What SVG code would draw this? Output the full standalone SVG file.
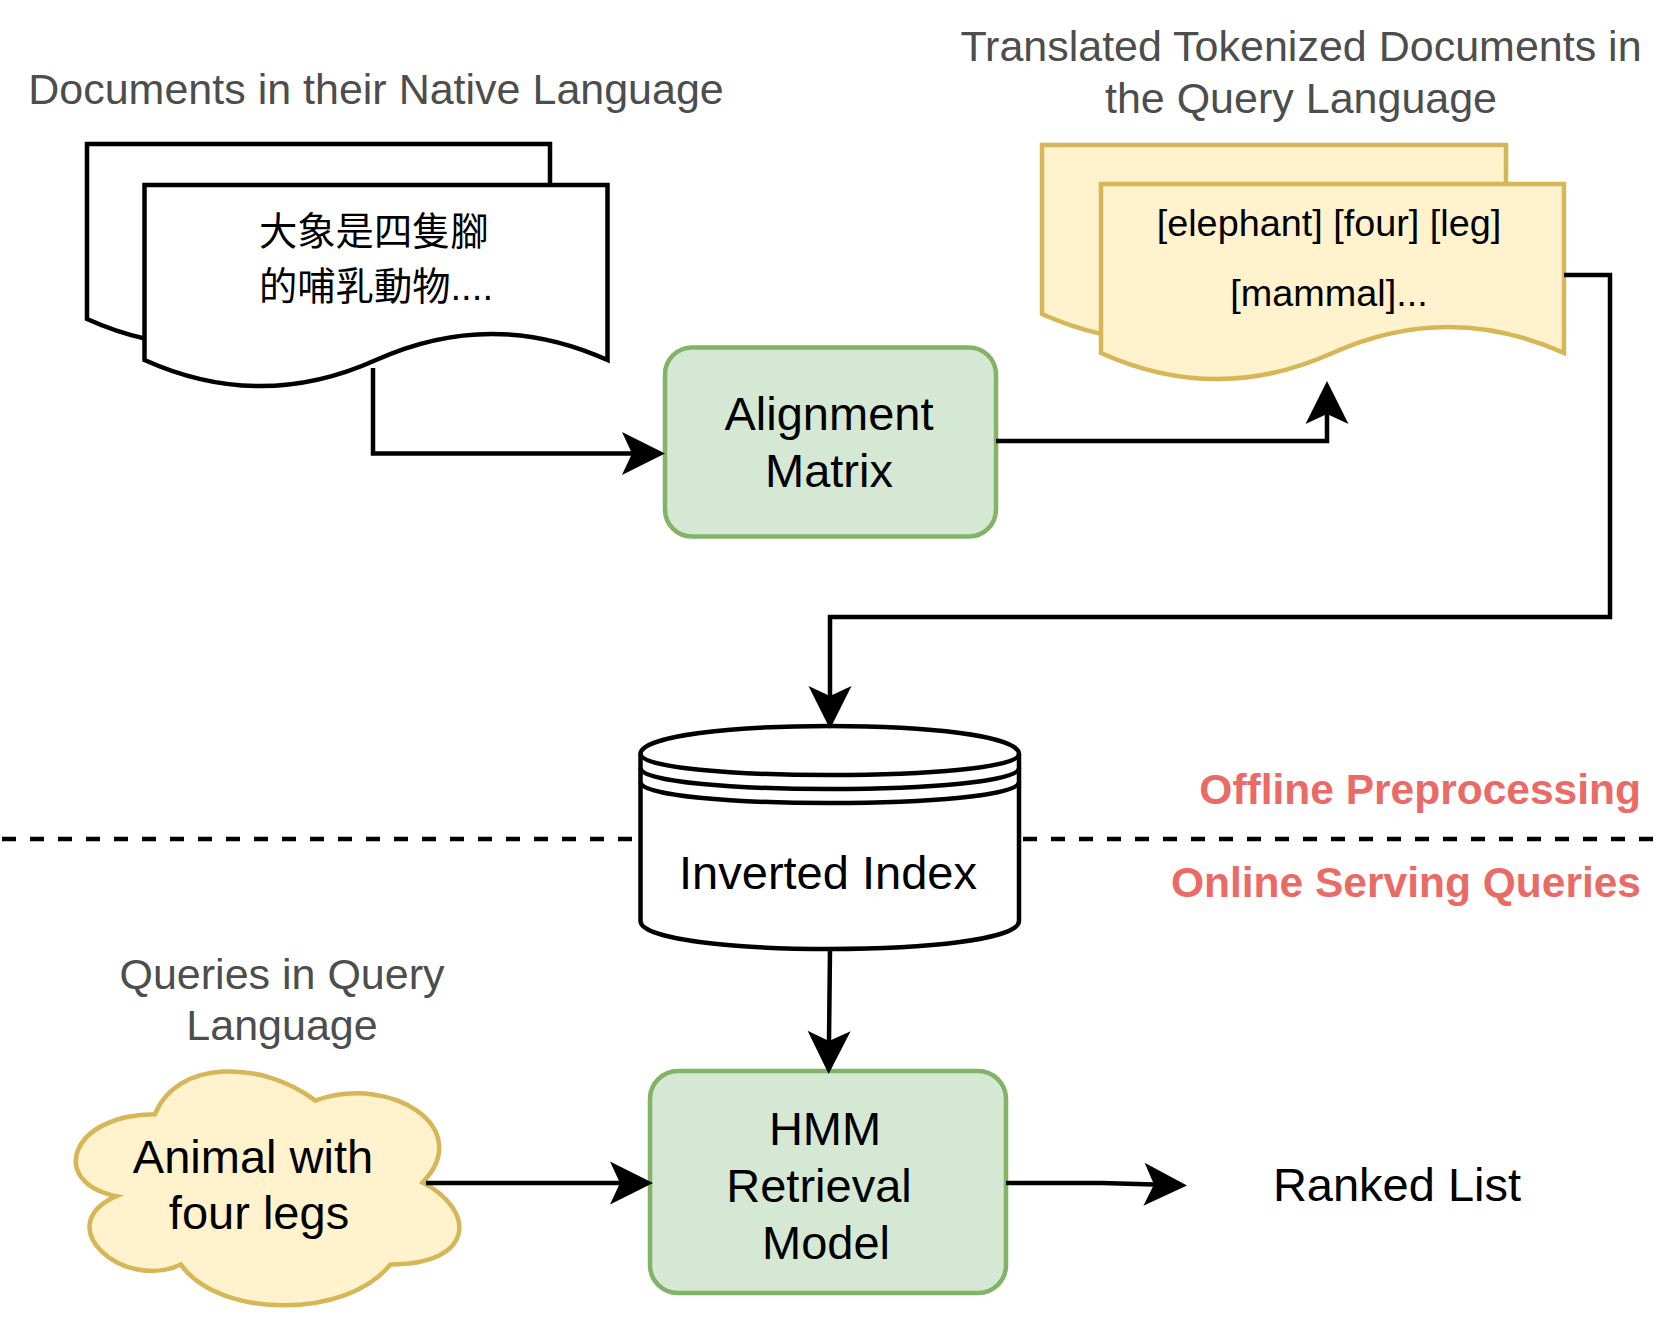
<svg xmlns="http://www.w3.org/2000/svg" width="1661" height="1338" viewBox="0 0 1661 1338">
<style>
text{font-family:"Liberation Sans",Arial,sans-serif}
.g{font-size:43px;fill:#4D4D4D;text-anchor:middle}
.b{font-size:47px;fill:#000;text-anchor:middle}
.r{font-size:42.5px;font-weight:bold;fill:#EA6B66;text-anchor:end}
.d{font-size:37.8px;fill:#000;text-anchor:middle}
.cjk{font-family:"Liberation Sans","Noto Sans CJK TC",sans-serif;font-size:38.3px;fill:#000}
.wdoc{fill:#fff;stroke:#000;stroke-width:4.5}
.ydoc{fill:#FFF2CC;stroke:#D6B656;stroke-width:4.5}
.gbox{fill:#D5E8D4;stroke:#82B366;stroke-width:4.5}
.line{fill:none;stroke:#000;stroke-width:4.5}
.conn{fill:none;stroke:#000;stroke-width:4.5;marker-end:url(#arr)}
.dash{fill:none;stroke:#000;stroke-width:4.3;stroke-dasharray:14 14}
</style>
<defs>
<marker id="arr" markerUnits="userSpaceOnUse" markerWidth="44" markerHeight="44" refX="10" refY="21.5" orient="auto" overflow="visible">
<path d="M0,0 L43,21.5 L0,43 L10,21.5 Z" fill="#000"/>
</marker>
</defs>
<rect width="1661" height="1338" fill="#fff"/>

<g id="label-native">
<text class="g" x="376" y="104">Documents in their Native Language</text>
</g>
<g id="label-translated">
<text class="g" x="1301" y="61">Translated Tokenized Documents in</text>
<text class="g" x="1301" y="113">the Query Language</text>
</g>
<g id="label-queries">
<text class="g" x="282" y="989">Queries in Query</text>
<text class="g" x="282" y="1040">Language</text>
</g>
<g id="label-phases">
<text class="r" x="1641" y="804">Offline Preprocessing</text>
<text class="r" x="1641" y="897">Online Serving Queries</text>
</g>

<g id="divider">
<path class="dash" d="M2,839 H640"/>
<path class="dash" d="M1023,839 H1661"/>
</g>

<g id="native-docs">
<path class="wdoc" d="M87,144 H550 V319 Q434.25,266.8 318.5,319 Q202.75,371.2 87,319 Z"/>
<path class="wdoc" d="M144.5,185 H607.5 V360 Q491.75,307.8 376,360 Q260.25,412.2 144.5,360 Z"/>
<text class="cjk" x="259" y="245">大象是四隻腳</text>
<text class="cjk" x="259" y="300">的哺乳動物....</text>
</g>

<g id="translated-docs">
<path class="ydoc" d="M1042,145 H1506 V314 Q1390,261.8 1274,314 Q1158,366.2 1042,314 Z"/>
<path class="ydoc" d="M1101,184 H1564 V353 Q1448.25,300.8 1332.5,353 Q1216.75,405.2 1101,353 Z"/>
<text class="d" x="1329" y="236">[elephant] [four] [leg]</text>
<text class="d" x="1329" y="306">[mammal]...</text>
</g>

<g id="alignment-matrix">
<rect class="gbox" x="665" y="347.5" width="331" height="189" rx="27" ry="27"/>
<text class="b" x="829" y="430">Alignment</text>
<text class="b" x="829" y="487">Matrix</text>
</g>

<g id="inverted-index">
<path class="wdoc" d="M640.5,754 C640.5,716.67 1019,716.67 1019,754 V921 C1019,958.33 640.5,958.33 640.5,921 Z"/>
<path class="line" d="M640.5,754 C640.5,782 1019,782 1019,754 M640.5,768 C640.5,796 1019,796 1019,768 M640.5,782 C640.5,810 1019,810 1019,782"/>
<text class="b" x="828" y="889">Inverted Index</text>
</g>

<g id="query-cloud">
<path class="ydoc" d="M155,1114.25 C69.4,1114.25 48,1182.5 116.48,1196.15 C48,1226.18 125.04,1291.7 180.68,1264.4 C219.2,1319 347.6,1319 390.4,1264.4 C476,1264.4 476,1209.8 422.5,1182.5 C476,1127.9 390.4,1073.3 315.5,1100.6 C262,1059.65 176.4,1059.65 155,1114.25 Z"/>
<text class="b" x="253" y="1173">Animal with</text>
<text class="b" x="259" y="1229">four legs</text>
</g>

<g id="hmm-model">
<rect class="gbox" x="650" y="1071" width="356" height="222" rx="28" ry="28"/>
<text class="b" x="825" y="1145">HMM</text>
<text class="b" x="819" y="1202">Retrieval</text>
<text class="b" x="826" y="1259">Model</text>
</g>

<g id="ranked-list">
<text class="b" x="1397" y="1201">Ranked List</text>
</g>

<g id="connectors">
<path class="conn" d="M373,368 V453.5 H632"/>
<path class="conn" d="M996,441 H1327 V414"/>
<path class="conn" d="M1564,275 H1610 V617 H830 V696"/>
<path class="conn" d="M830,949 L829,1041"/>
<path class="conn" d="M426,1183 H620"/>
<path class="conn" d="M1006,1183 H1102 L1154,1184.5"/>
</g>
</svg>
